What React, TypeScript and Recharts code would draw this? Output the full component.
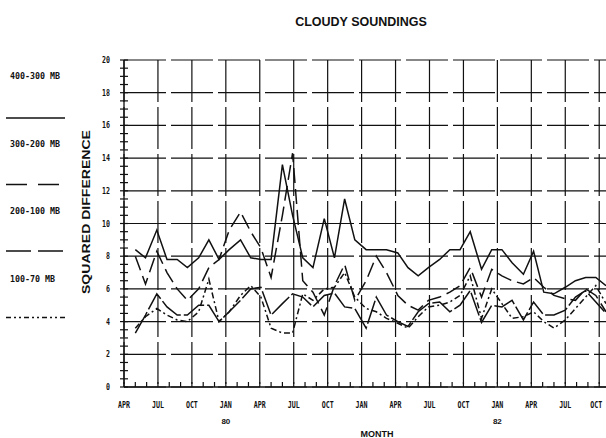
import React from 'react'
import { LineChart, Line, XAxis, YAxis, CartesianGrid } from 'recharts'

// months counted from APR 1979 (0 = APR 79), one sounding sample roughly every 4 weeks
const sampleMonth = [
    1.0, 1.9, 2.9, 3.8, 4.7, 5.6, 6.6, 7.5, 8.4, 9.3, 10.3, 11.2, 12.1, 13.0, 14.0, 14.9,
    15.8, 16.7, 17.7, 18.6, 19.5, 20.4, 21.4, 22.3, 23.2, 24.2, 25.1, 26.0, 26.9, 27.9, 28.8,
    29.7, 30.6, 31.6, 32.5, 33.4, 34.3, 35.3, 36.2, 37.1, 38.0, 39.0, 39.9, 40.8, 41.7, 42.6,
]

const layer400_300 = [
    8.4, 7.9, 9.6, 7.8, 7.8, 7.3, 7.9, 9.0, 7.8, 8.4, 9.0, 7.9, 7.8, 7.8, 13.6, 10.5,
    7.9, 7.3, 10.3, 7.9, 11.5, 9.0, 8.4, 8.4, 8.4, 8.2, 7.3, 6.8, 7.3, 7.8, 8.4,
    8.4, 9.5, 7.2, 8.4, 8.4, 7.6, 6.9, 8.3, 5.8, 5.7, 6.1, 6.5, 6.7, 6.7, 6.2,
]

const layer300_200 = [
    8.0, 6.3, 8.3, 7.0, 6.0, 5.3, 6.0, 7.3, 7.8, 9.6, 10.7, 9.5, 8.5, 6.7, 10.5, 14.3,
    6.5, 5.8, 4.4, 6.2, 7.5, 5.3, 6.5, 8.0, 7.0, 5.6, 5.0, 4.7, 5.3, 5.5, 5.8,
    6.2, 7.3, 5.5, 7.2, 6.8, 6.5, 6.3, 6.7, 6.1, 5.6, 5.4, 5.3, 6.0, 5.6, 4.6,
]

const layer200_100 = [
    3.3, 4.4, 5.7, 4.9, 4.4, 4.4, 5.0, 5.0, 4.0, 4.6, 5.3, 6.0, 6.1, 4.4, 5.1, 5.7,
    5.5, 4.9, 5.6, 5.75, 4.9, 4.8, 3.6, 5.5, 4.4, 4.0, 3.7, 4.6, 5.1, 5.2, 4.6,
    5.0, 5.9, 3.95, 5.0, 4.9, 5.3, 4.1, 5.2, 4.4, 4.4, 4.7, 5.5, 5.9, 5.2, 4.5,
]

const layer100_70 = [
    3.6, 4.3, 4.8, 4.4, 4.1, 4.0, 4.6, 6.6, 4.0, 4.6, 5.6, 6.2, 5.5, 3.6, 3.3, 3.3,
    5.7, 5.3, 6.0, 6.1, 7.0, 5.5, 4.8, 4.6, 4.2, 3.9, 3.6, 4.3, 4.9, 5.0, 5.2,
    5.6, 6.8, 4.2, 6.0, 5.1, 4.2, 4.3, 4.6, 4.0, 3.6, 4.1, 4.8, 5.5, 6.2, 5.1,
]

const quarterLabels = ['APR', 'JUL', 'OCT', 'JAN', 'APR', 'JUL', 'OCT', 'JAN', 'APR', 'JUL', 'OCT', 'JAN', 'APR', 'JUL', 'OCT']
const yearLabels: Record<number, string> = { 9: '80', 33: '82' }
const yLabels = [0, 2, 4, 6, 8, 10, 12, 14, 16, 18, 20]

const legendItems = [
    { label: '400-300 MB', dash: undefined },
    { label: '300-200 MB', dash: '21 11' },
    { label: '200-100 MB', dash: '25 7' },
    { label: '100-70 MB', dash: '5 3 2 3 2 3' },
]

const ink = '#111'
const plotFont = '"DejaVu Sans Mono", monospace'
const headFont = '"Liberation Sans", Arial, sans-serif'

const data = sampleMonth.map((m, i) => ({
    m,
    a: layer400_300[i],
    b: layer300_200[i],
    c: layer200_100[i],
    d: layer100_70[i],
}))

const monthTicks = Array.from({ length: 43 }, (_, i) => i)
const quarterTicks = monthTicks.filter((m) => m % 3 === 0)
const halfTicks = Array.from({ length: 41 }, (_, i) => i / 2)

const MonthTick = (props: any) => {
    const { x, y, payload } = props
    const m = payload.value as number
    const label = m % 3 === 0 ? quarterLabels[m / 3] : null
    // the last label sits against the right edge of the page
    const lx = m === 42 ? x - 3 : x
    return (
        <g>
            <line x1={x} y1={y} x2={x} y2={y - 5} stroke={ink} strokeWidth={1.2} />
            {label && (
                <text x={lx} y={y + 21} textAnchor='middle' fontFamily={plotFont} fontWeight='bold'
                    fontSize={8} fill={ink} textLength={12} lengthAdjust='spacingAndGlyphs'>
                    {label}
                </text>
            )}
            {yearLabels[m] && (
                <text x={x} y={y + 37} textAnchor='middle' fontFamily={headFont} fontWeight='bold'
                    fontSize={8} fill={ink}>
                    {yearLabels[m]}
                </text>
            )}
        </g>
    )
}

const ValueTick = (props: any) => {
    const { x, y, payload } = props
    const v = payload.value as number
    const major = v % 2 === 0
    return (
        <g>
            <line x1={x - 4} y1={y} x2={x + 4} y2={y} stroke={ink} strokeWidth={1.2} />
            {major && (
                <text x={x - 14} y={y + 3} textAnchor='end' fontFamily={plotFont} fontWeight='bold'
                    fontSize={8} fill={ink} textLength={String(v).length * 4}
                    lengthAdjust='spacingAndGlyphs'>
                    {v}
                </text>
            )}
        </g>
    )
}

const App: React.FC = () => {
    return (
        <div style={{ position: 'absolute', left: 0, top: 0, width: 606, height: 438, background: '#fff' }}>
            <LineChart width={606} height={438} data={data} margin={{ top: 60, right: 0, bottom: 0, left: 0 }}>
                <CartesianGrid
                    horizontalValues={yLabels}
                    verticalValues={quarterTicks}
                    stroke={ink}
                    strokeWidth={1.2}
                    strokeDasharray='42 5'
                />
                <XAxis
                    dataKey='m'
                    type='number'
                    domain={[0, 42.6]}
                    allowDataOverflow
                    ticks={monthTicks}
                    interval={0}
                    height={51}
                    tickSize={0}
                    tickMargin={0}
                    tickLine={false}
                    tick={<MonthTick />}
                    axisLine={{ stroke: ink, strokeWidth: 1.3 }}
                />
                <YAxis
                    type='number'
                    domain={[0, 20]}
                    ticks={halfTicks}
                    interval={0}
                    width={124}
                    tickSize={0}
                    tickMargin={0}
                    tickLine={false}
                    tick={<ValueTick />}
                    axisLine={{ stroke: ink, strokeWidth: 1.3 }}
                />
                <Line dataKey='a' stroke={ink} strokeWidth={1.5} dot={false} isAnimationActive={false} />
                <Line dataKey='b' stroke={ink} strokeWidth={1.5} strokeDasharray='15 6' dot={false} isAnimationActive={false} />
                <Line dataKey='c' stroke={ink} strokeWidth={1.5} strokeDasharray='24 3' dot={false} isAnimationActive={false} />
                <Line dataKey='d' stroke={ink} strokeWidth={1.5} strokeDasharray='6 3 2 3' dot={false} isAnimationActive={false} />
            </LineChart>
            <svg width={606} height={438} style={{ position: 'absolute', left: 0, top: 0, pointerEvents: 'none' }}>
                <text x={361} y={26} textAnchor='middle' fontFamily={headFont} fontWeight='bold' fontSize={12.5} fill={ink}>
                    CLOUDY SOUNDINGS
                </text>
                <text x={377} y={437} textAnchor='middle' fontFamily={headFont} fontWeight='bold' fontSize={9} fill={ink}>
                    MONTH
                </text>
                <text transform='translate(90 212) rotate(-90)' textAnchor='middle' fontFamily={headFont}
                    fontWeight='bold' fontSize={10} fill={ink} textLength={164} lengthAdjust='spacingAndGlyphs'>
                    SQUARED DIFFERENCE
                </text>
                {legendItems.map((item, i) => (
                    <g key={item.label}>
                        <text x={10} y={79 + i * 67.5} fontFamily={plotFont} fontWeight='bold' fontSize={8} fill={ink}
                            textLength={item.label.length * 5} lengthAdjust='spacingAndGlyphs'>
                            {item.label}
                        </text>
                        <line x1={6} y1={118 + i * 66.5} x2={65} y2={118 + i * 66.5} stroke={ink} strokeWidth={1.4}
                            strokeDasharray={item.dash} />
                    </g>
                ))}
            </svg>
        </div>
    )
}

export default App
